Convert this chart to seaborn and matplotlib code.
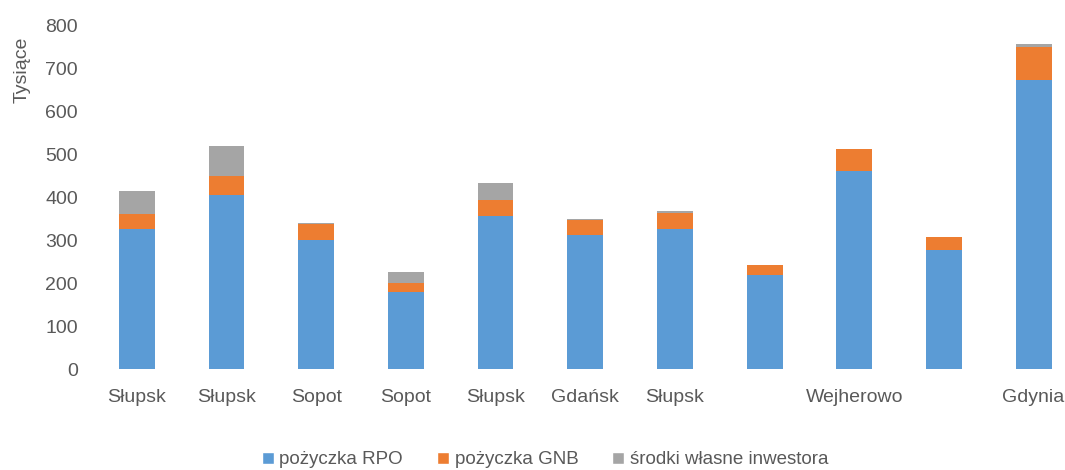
import matplotlib
matplotlib.use("Agg")
import matplotlib.pyplot as plt
import pandas as pd
import numpy as np
import seaborn as sns
from matplotlib.patches import Patch

# dane (w tysiącach)
miasta = ["Słupsk", "Słupsk", "Sopot", "Sopot", "Słupsk", "Gdańsk", "Słupsk",
          "", "Wejherowo", "", "Gdynia"]
pozyczka_rpo = [325, 405, 300, 180, 357, 312, 325, 218, 461, 277, 673]
pozyczka_gnb = [35, 45, 37, 20, 37, 36, 39, 24, 52, 31, 77]
srodki_wlasne = [55, 70, 3, 25, 39, 2, 3, 0, 0, 0, 7]

kolory = ["#5B9BD5", "#ED7D31", "#A5A5A5"]
serie = ["pożyczka RPO", "pożyczka GNB", "środki własne inwestora"]

sns.set_style("white")
plt.rcParams['font.family'] = ['Liberation Sans', 'DejaVu Sans']

df = pd.DataFrame({
    'id': [str(i) for i in range(len(miasta))],
    'rpo': pozyczka_rpo,
    'gnb': pozyczka_gnb,
    'wl': srodki_wlasne,
})
df['c1'] = df['rpo']
df['c2'] = df['rpo'] + df['gnb']
df['c3'] = df['c2'] + df['wl']

fig = plt.figure(figsize=(10.65, 4.7), dpi=100)
ax = fig.add_axes([92 / 1065, 100.7 / 470, (1065 - 92) / 1065, 344.3 / 470])

# słupki skumulowane: najpierw suma, potem kolejne warstwy
for kol, c in zip(['c3', 'c2', 'c1'], kolory[::-1]):
    sns.barplot(data=df, x='id', y=kol, color=c, width=0.4, ax=ax,
                saturation=1, linewidth=0)

ax.set_ylim(0, 800)
ax.set_xlim(-0.5, 10.35)
ax.set_yticks(range(0, 801, 100))
ax.set_xticks(range(len(miasta)))
ax.set_xticklabels(miasta)
ax.tick_params(axis='both', length=0, colors='#595959', labelsize=14)
ax.tick_params(axis='x', pad=14)
ax.tick_params(axis='y', pad=10)
ax.set_xlabel("")
ax.set_ylabel("")
for s in ax.spines.values():
    s.set_visible(False)

fig.text(22 / 1065, 400 / 470, "Tysiące", rotation=90, ha='center', va='center',
         color='#595959', fontsize=14)

uchwyty = [Patch(facecolor=c, label=l) for c, l in zip(kolory, serie)]
fig.legend(handles=uchwyty, loc='center', bbox_to_anchor=(545 / 1065, 10 / 470),
           ncol=3, frameon=False, fontsize=13.5, labelcolor='#595959',
           handlelength=0.65, handleheight=0.65, handletextpad=0.3, columnspacing=1.8)

fig.savefig("out.png", dpi=100)
